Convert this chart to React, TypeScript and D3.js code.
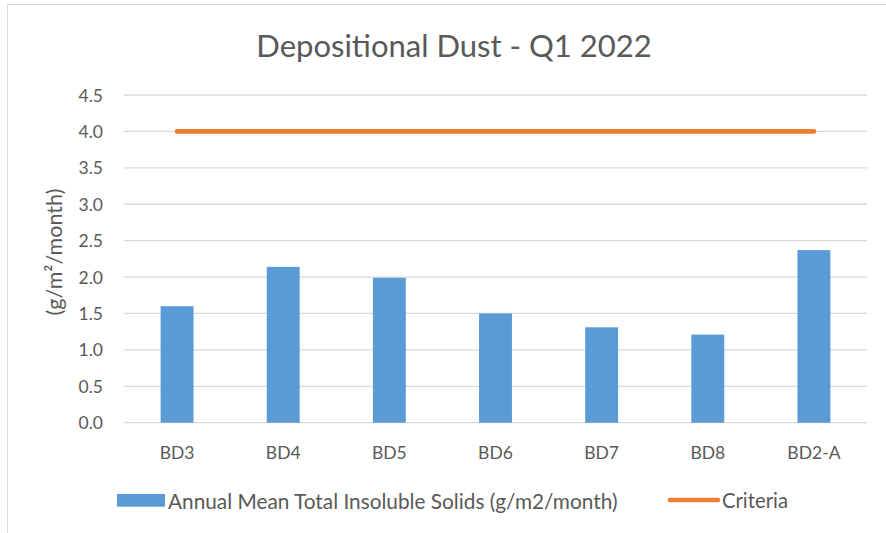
import React from 'react';
import { scaleBand, scaleLinear } from 'd3';

const categories = ['BD3', 'BD4', 'BD5', 'BD6', 'BD7', 'BD8', 'BD2-A'];
const insolubleSolids = [1.6, 2.14, 1.99, 1.5, 1.31, 1.21, 2.37];
const criteria = [4, 4, 4, 4, 4, 4, 4];
const yTicks = [0, 0.5, 1, 1.5, 2, 2.5, 3, 3.5, 4, 4.5];

const FONT = 'Lato, "Open Sans", sans-serif';
const TEXT = '#595959';

const App = () => {
  const xScale = scaleBand<string>()
    .domain(categories)
    .range([124, 867])
    .paddingInner(0.69)
    .paddingOuter(0.345);

  const yScale = scaleLinear().domain([0, 4.5]).range([422.7, 95]);

  const center = (c: string) => (xScale(c) as number) + xScale.bandwidth() / 2;

  return (
    <svg
      width={886}
      height={533}
      style={{ position: 'absolute', left: 0, top: 0, background: '#fff' }}
      fontFamily={FONT}
    >
      <rect x={7.5} y={4.5} width={920} height={600} fill="#fff" stroke="#d9d9d9" />

      <text x={454} y={45} textAnchor="middle" dominantBaseline="central" fontSize={31} fill={TEXT}>
        Depositional Dust - Q1 2022
      </text>

      {/* grid + y labels */}
      {yTicks.map((t) => (
        <g key={t}>
          <line x1={124} x2={867} y1={yScale(t)} y2={yScale(t)} stroke="#d9d9d9" strokeWidth={1.3} />
          <text x={103} y={yScale(t)} textAnchor="end" dominantBaseline="central" fontSize={17.5} fill={TEXT}>
            {t.toFixed(1)}
          </text>
        </g>
      ))}

      <text
        transform="translate(54,252) rotate(-90)"
        textAnchor="middle"
        dominantBaseline="central"
        fontSize={21.5}
        fill={TEXT}
      >
        (g/m²/month)
      </text>

      {/* bars */}
      {insolubleSolids.map((v, i) => (
        <rect
          key={categories[i]}
          x={xScale(categories[i])}
          y={yScale(v)}
          width={xScale.bandwidth()}
          height={yScale(0) - yScale(v)}
          fill="#5b9bd5"
        />
      ))}

      {/* criteria line */}
      <line
        x1={center(categories[0])}
        x2={center(categories[categories.length - 1])}
        y1={yScale(criteria[0])}
        y2={yScale(criteria[criteria.length - 1])}
        stroke="#ed7d31"
        strokeWidth={4.7}
        strokeLinecap="round"
      />

      {/* x labels */}
      {categories.map((c) => (
        <text key={c} x={center(c)} y={452} textAnchor="middle" dominantBaseline="central" fontSize={17.5} fill={TEXT}>
          {c}
        </text>
      ))}

      {/* legend */}
      <rect x={117} y={494} width={48} height={12.7} fill="#5b9bd5" />
      <text x={168} y={500} dominantBaseline="central" fontSize={20.8} fill={TEXT}>
        Annual Mean Total Insoluble Solids (g/m2/month)
      </text>
      <line x1={670} x2={718} y1={500} y2={500} stroke="#ed7d31" strokeWidth={4.7} strokeLinecap="round" />
      <text x={722} y={500} dominantBaseline="central" fontSize={20.3} fill={TEXT}>
        Criteria
      </text>
    </svg>
  );
};

export default App;
